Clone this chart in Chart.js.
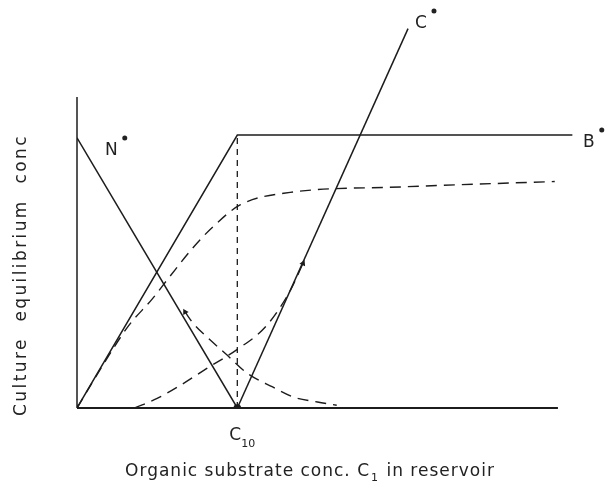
<!DOCTYPE html>
<html>
<head>
<meta charset="utf-8">
<script src="https://cdn.jsdelivr.net/npm/chart.js@4.4.1/dist/chart.umd.min.js"></script>
<style>
  html, body { margin: 0; padding: 0; background: #fff; }
  #wrap { width: 606px; height: 482px; position: relative; }
</style>
</head>
<body>
<div id="wrap"><canvas id="chart"></canvas></div>
<script>
// --- Curves (x: substrate conc. in reservoir, C10 = 10; y: equilibrium conc.) ---
const nSolidX = [0, 10];
const nSolidY = [9.9, 0];

const bSolidX = [0, 10, 30.9];
const bSolidY = [0, 10, 10];

const cSolidX = [10, 20.65];
const cSolidY = [0, 13.9];

const bDashX = [0, 1.75, 3.2, 4.7, 5.7, 7.2, 8.5, 10.2, 13.3, 20.2, 29.8];
const bDashY = [0, 1.7, 3.0, 4.0, 4.75, 5.85, 6.65, 7.45, 7.9, 8.1, 8.3];

const nDashX = [6.74, 7.24, 8.11, 9.36, 10.6, 12.2, 13.5, 15.0, 16.2];
const nDashY = [3.52, 3.11, 2.6, 1.94, 1.28, 0.77, 0.4, 0.22, 0.1];

const cDashX = [3.6, 5.0, 6.5, 8.1, 10, 11.8, 13.3, 14.1];
const cDashY = [0, 0.35, 0.85, 1.45, 2.15, 3.0, 4.3, 5.3];

const c10X = [10, 10];
const c10Y = [0, 10];

// axis extents
const X_AXIS_END = 30;
const Y_AXIS_END = 11.4;

const INK = '#1c1c1c';
const FONT = '"DejaVu Sans", sans-serif';

const pts = (xs, ys) => xs.map((x, i) => ({ x, y: ys[i] }));

function solid(xs, ys, extra) {
    return Object.assign({
        data: pts(xs, ys),
        showLine: true,
        borderColor: INK,
        backgroundColor: INK,
        borderWidth: 1.5,
        pointRadius: 0,
        tension: 0
    }, extra || {});
}

function dashed(xs, ys, extra) {
    return solid(xs, ys, Object.assign({
        borderWidth: 1.4,
        borderDash: [11, 7],
        cubicInterpolationMode: 'monotone'
    }, extra || {}));
}

// draws axes lines and all the lettering
const lettering = {
    id: 'lettering',
    afterDatasetsDraw(chart) {
        const { ctx, scales: { x, y } } = chart;
        const px = v => x.getPixelForValue(v);
        const py = v => y.getPixelForValue(v);

        ctx.save();
        ctx.strokeStyle = INK;
        ctx.lineCap = 'butt';
        // y axis
        ctx.lineWidth = 1.5;
        ctx.beginPath();
        ctx.moveTo(px(0), py(0));
        ctx.lineTo(px(0), py(Y_AXIS_END));
        ctx.stroke();
        // x axis
        ctx.lineWidth = 2;
        ctx.beginPath();
        ctx.moveTo(px(0), py(0));
        ctx.lineTo(px(X_AXIS_END), py(0));
        ctx.stroke();

        ctx.fillStyle = '#222';
        ctx.textBaseline = 'alphabetic';
        ctx.textAlign = 'left';
        ctx.font = '17px ' + FONT;

        const dot = (cx, cy) => {
            ctx.beginPath();
            ctx.arc(cx, cy, 2.5, 0, Math.PI * 2);
            ctx.fill();
        };
        const starred = (t, vx, vy) => {
            const lx = px(vx), ly = py(vy);
            ctx.letterSpacing = '0px';
            ctx.fillText(t, lx, ly);
            const w = ctx.measureText(t).width;
            dot(lx + w + 7, ly - 17);
        };
        starred('N', 1.75, 9.27);
        starred('B', 31.57, 9.56);
        starred('C', 21.09, 13.92);

        // C10 mark under the axis
        const base = py(0);
        ctx.fillText('C', px(10) - 8, base + 32);
        const cw = ctx.measureText('C').width;
        ctx.font = '11px ' + FONT;
        ctx.fillText('10', px(10) - 8 + cw, base + 39);

        // x title with subscript
        ctx.font = '17px ' + FONT;
        ctx.letterSpacing = '1px';
        const a = 'Organic substrate conc. C', b = ' in reservoir';
        const wa = ctx.measureText(a).width;
        const wb = ctx.measureText(b).width;
        ctx.font = '11px ' + FONT;
        const ws = ctx.measureText('1').width + 2;
        let tx = 310 - (wa + ws + wb) / 2;
        const ty = base + 68;
        ctx.font = '17px ' + FONT;
        ctx.fillText(a, tx, ty);
        tx += wa;
        ctx.font = '11px ' + FONT;
        ctx.fillText('1', tx + 1, ty + 5);
        tx += ws;
        ctx.font = '17px ' + FONT;
        ctx.fillText(b, tx, ty);

        // y title
        ctx.translate(26, 275);
        ctx.rotate(-Math.PI / 2);
        ctx.textAlign = 'center';
        ctx.letterSpacing = '2.4px';
        ctx.fillText('Culture  equilibrium  conc', 0, 0);
        ctx.restore();
    }
};

new Chart(document.getElementById('chart'), {
    type: 'scatter',
    data: {
        datasets: [
            solid(nSolidX, nSolidY),
            solid(bSolidX, bSolidY),
            solid(cSolidX, cSolidY, { pointRadius: [3, 0] }),
            dashed(bDashX, bDashY, {
                pointRadius: bDashX.map((v, i) => i === 0 ? 2.5 : 0),
                pointStyle: 'triangle'
            }),
            dashed(nDashX, nDashY, {
                pointRadius: nDashX.map((v, i) => i === 0 ? 2.2 : 0),
                pointStyle: 'triangle',
                rotation: -30
            }),
            dashed(cDashX, cDashY, {
                pointRadius: cDashX.map((v, i) => i === cDashX.length - 1 ? 2.2 : 0),
                pointStyle: 'triangle',
                rotation: 25
            }),
            solid(c10X, c10Y, { borderDash: [6, 5], borderWidth: 1.3 })
        ]
    },
    options: {
        responsive: true,
        maintainAspectRatio: false,
        animation: false,
        layout: { padding: { left: 77, right: 16, top: 15, bottom: 74 } },
        plugins: { legend: { display: false }, tooltip: { enabled: false } },
        scales: {
            x: { type: 'linear', min: 0, max: 32, display: false },
            y: { type: 'linear', min: 0, max: 14.4, display: false }
        }
    },
    plugins: [lettering]
});
</script>
</body>
</html>
